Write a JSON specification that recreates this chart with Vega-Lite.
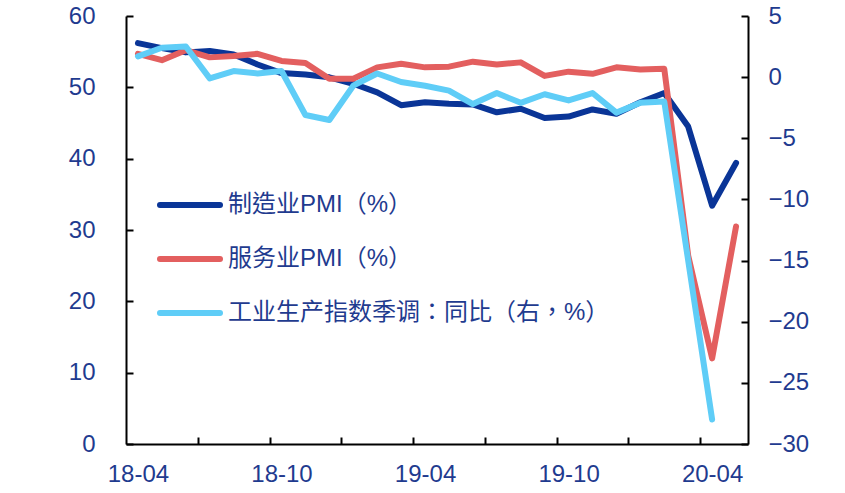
{
  "$schema": "https://vega.github.io/schema/vega-lite/v6.json",
  "width": 622,
  "height": 428,
  "autosize": {"type": "none"},
  "padding": {"left": 126, "top": 16, "right": 97, "bottom": 49},
  "background": "white",
  "config": {
    "view": {"stroke": null},
    "font": "Liberation Sans, Noto Sans CJK TC",
    "axis": {
      "domainColor": "black",
      "domainWidth": 2,
      "tickColor": "black",
      "tickWidth": 2,
      "tickSize": -7,
      "labelFont": "Liberation Sans",
      "labelFontSize": 24,
      "labelColor": "#1F3B8F",
      "grid": false,
      "title": null
    }
  },
  "data": {
    "values": [
      {"m": "18-04", "s": "制造业PMI（%）", "v": 56.2},
      {"m": "18-05", "s": "制造业PMI（%）", "v": 55.5},
      {"m": "18-06", "s": "制造业PMI（%）", "v": 54.9},
      {"m": "18-07", "s": "制造业PMI（%）", "v": 55.1},
      {"m": "18-08", "s": "制造业PMI（%）", "v": 54.6},
      {"m": "18-09", "s": "制造业PMI（%）", "v": 53.2},
      {"m": "18-10", "s": "制造业PMI（%）", "v": 52.0},
      {"m": "18-11", "s": "制造业PMI（%）", "v": 51.8},
      {"m": "18-12", "s": "制造业PMI（%）", "v": 51.4},
      {"m": "19-01", "s": "制造业PMI（%）", "v": 50.5},
      {"m": "19-02", "s": "制造业PMI（%）", "v": 49.3},
      {"m": "19-03", "s": "制造业PMI（%）", "v": 47.5},
      {"m": "19-04", "s": "制造业PMI（%）", "v": 47.9},
      {"m": "19-05", "s": "制造业PMI（%）", "v": 47.7},
      {"m": "19-06", "s": "制造业PMI（%）", "v": 47.6},
      {"m": "19-07", "s": "制造业PMI（%）", "v": 46.5},
      {"m": "19-08", "s": "制造业PMI（%）", "v": 47.0},
      {"m": "19-09", "s": "制造业PMI（%）", "v": 45.7},
      {"m": "19-10", "s": "制造业PMI（%）", "v": 45.9},
      {"m": "19-11", "s": "制造业PMI（%）", "v": 46.9},
      {"m": "19-12", "s": "制造业PMI（%）", "v": 46.3},
      {"m": "20-01", "s": "制造业PMI（%）", "v": 47.9},
      {"m": "20-02", "s": "制造业PMI（%）", "v": 49.2},
      {"m": "20-03", "s": "制造业PMI（%）", "v": 44.5},
      {"m": "20-04", "s": "制造业PMI（%）", "v": 33.4},
      {"m": "20-05", "s": "制造业PMI（%）", "v": 39.4},
      {"m": "18-04", "s": "服务业PMI（%）", "v": 54.7},
      {"m": "18-05", "s": "服务业PMI（%）", "v": 53.8},
      {"m": "18-06", "s": "服务业PMI（%）", "v": 55.2},
      {"m": "18-07", "s": "服务业PMI（%）", "v": 54.2},
      {"m": "18-08", "s": "服务业PMI（%）", "v": 54.4},
      {"m": "18-09", "s": "服务业PMI（%）", "v": 54.7},
      {"m": "18-10", "s": "服务业PMI（%）", "v": 53.7},
      {"m": "18-11", "s": "服务业PMI（%）", "v": 53.4},
      {"m": "18-12", "s": "服务业PMI（%）", "v": 51.2},
      {"m": "19-01", "s": "服务业PMI（%）", "v": 51.2},
      {"m": "19-02", "s": "服务业PMI（%）", "v": 52.8},
      {"m": "19-03", "s": "服务业PMI（%）", "v": 53.3},
      {"m": "19-04", "s": "服务业PMI（%）", "v": 52.8},
      {"m": "19-05", "s": "服务业PMI（%）", "v": 52.9},
      {"m": "19-06", "s": "服务业PMI（%）", "v": 53.6},
      {"m": "19-07", "s": "服务业PMI（%）", "v": 53.2},
      {"m": "19-08", "s": "服务业PMI（%）", "v": 53.5},
      {"m": "19-09", "s": "服务业PMI（%）", "v": 51.6},
      {"m": "19-10", "s": "服务业PMI（%）", "v": 52.2},
      {"m": "19-11", "s": "服务业PMI（%）", "v": 51.9},
      {"m": "19-12", "s": "服务业PMI（%）", "v": 52.8},
      {"m": "20-01", "s": "服务业PMI（%）", "v": 52.5},
      {"m": "20-02", "s": "服务业PMI（%）", "v": 52.6},
      {"m": "20-03", "s": "服务业PMI（%）", "v": 26.4},
      {"m": "20-04", "s": "服务业PMI（%）", "v": 12.0},
      {"m": "20-05", "s": "服务业PMI（%）", "v": 30.5},
      {"m": "18-04", "s": "工业生产指数季调：同比（右，%）", "v": 1.7},
      {"m": "18-05", "s": "工业生产指数季调：同比（右，%）", "v": 2.4},
      {"m": "18-06", "s": "工业生产指数季调：同比（右，%）", "v": 2.5},
      {"m": "18-07", "s": "工业生产指数季调：同比（右，%）", "v": -0.1},
      {"m": "18-08", "s": "工业生产指数季调：同比（右，%）", "v": 0.5},
      {"m": "18-09", "s": "工业生产指数季调：同比（右，%）", "v": 0.3},
      {"m": "18-10", "s": "工业生产指数季调：同比（右，%）", "v": 0.5},
      {"m": "18-11", "s": "工业生产指数季调：同比（右，%）", "v": -3.1},
      {"m": "18-12", "s": "工业生产指数季调：同比（右，%）", "v": -3.5},
      {"m": "19-01", "s": "工业生产指数季调：同比（右，%）", "v": -0.7},
      {"m": "19-02", "s": "工业生产指数季调：同比（右，%）", "v": 0.3},
      {"m": "19-03", "s": "工业生产指数季调：同比（右，%）", "v": -0.4},
      {"m": "19-04", "s": "工业生产指数季调：同比（右，%）", "v": -0.7},
      {"m": "19-05", "s": "工业生产指数季调：同比（右，%）", "v": -1.1},
      {"m": "19-06", "s": "工业生产指数季调：同比（右，%）", "v": -2.2},
      {"m": "19-07", "s": "工业生产指数季调：同比（右，%）", "v": -1.3},
      {"m": "19-08", "s": "工业生产指数季调：同比（右，%）", "v": -2.1},
      {"m": "19-09", "s": "工业生产指数季调：同比（右，%）", "v": -1.4},
      {"m": "19-10", "s": "工业生产指数季调：同比（右，%）", "v": -1.9},
      {"m": "19-11", "s": "工业生产指数季调：同比（右，%）", "v": -1.3},
      {"m": "19-12", "s": "工业生产指数季调：同比（右，%）", "v": -2.9},
      {"m": "20-01", "s": "工业生产指数季调：同比（右，%）", "v": -2.1},
      {"m": "20-02", "s": "工业生产指数季调：同比（右，%）", "v": -2.0},
      {"m": "20-04", "s": "工业生产指数季调：同比（右，%）", "v": -28.0}
    ]
  },
  "encoding": {
    "x": {
      "field": "m",
      "type": "ordinal",
      "bandPosition": 0.5,
      "scale": {
        "type": "band",
        "paddingInner": 0,
        "paddingOuter": 0,
        "domain": ["18-04","18-05","18-06","18-07","18-08","18-09","18-10","18-11","18-12","19-01","19-02","19-03","19-04","19-05","19-06","19-07","19-08","19-09","19-10","19-11","19-12","20-01","20-02","20-03","20-04","20-05"]
      },
      "axis": {
        "values": ["18-04","18-06","18-09","18-10","18-12","19-03","19-04","19-06","19-09","19-10","19-12","20-03","20-04"],
        "labelExpr": "indexof(['18-04','18-10','19-04','19-10','20-04'], datum.value) >= 0 ? datum.value : ''",
        "tickBand": "extent",
        "tickOpacity": {
          "condition": {"test": "indexof(['18-06','18-09','18-12','19-03','19-06','19-09','19-12','20-03'], datum.value) >= 0", "value": 1},
          "value": 0
        },
        "labelAngle": 0,
        "labelOverlap": false,
        "labelPadding": 25
      }
    },
    "color": {
      "field": "s",
      "type": "nominal",
      "scale": {
        "domain": ["制造业PMI（%）", "服务业PMI（%）", "工业生产指数季调：同比（右，%）"],
        "range": ["#0A3597", "#E35F5F", "#5FCDF7"]
      },
      "legend": {
        "title": null,
        "orient": "none",
        "legendX": 31,
        "legendY": 174,
        "padding": 0,
        "symbolType": "stroke",
        "symbolSize": 3600,
        "symbolStrokeWidth": 6,
        "clipHeight": 30,
        "rowPadding": 24,
        "labelOffset": 5,
        "labelFont": "Liberation Sans, Noto Sans CJK TC",
        "labelFontSize": 24,
        "labelColor": "#1F3B8F",
        "labelLimit": 600,
        "encode": {"symbols": {"update": {"strokeCap": {"value": "round"}}}}
      }
    }
  },
  "layer": [
    {
      "encoding": {
        "y": {
          "field": "v",
          "type": "quantitative",
          "scale": {"domain": [0, 60], "nice": false, "zero": false},
          "axis": {"orient": "left", "values": [0, 10, 20, 30, 40, 50, 60], "labelPadding": 38}
        }
      },
      "layer": [
        {
          "transform": [{"filter": "datum.s === '制造业PMI（%）'"}],
          "mark": {"type": "line", "strokeWidth": 6, "strokeJoin": "round", "strokeCap": "round"}
        },
        {
          "transform": [{"filter": "datum.s === '服务业PMI（%）'"}],
          "mark": {"type": "line", "strokeWidth": 6, "strokeJoin": "round", "strokeCap": "round"}
        }
      ]
    },
    {
      "transform": [{"filter": "datum.s === '工业生产指数季调：同比（右，%）'"}],
      "mark": {"type": "line", "strokeWidth": 6, "strokeJoin": "round", "strokeCap": "round"},
      "encoding": {
        "y": {
          "field": "v",
          "type": "quantitative",
          "scale": {"domain": [-30, 5], "nice": false, "zero": false},
          "axis": {"orient": "right", "values": [-30, -25, -20, -15, -10, -5, 0, 5], "labelPadding": 27, "labelAlign": "left"}
        }
      }
    }
  ],
  "resolve": {"scale": {"y": "independent"}}
}
